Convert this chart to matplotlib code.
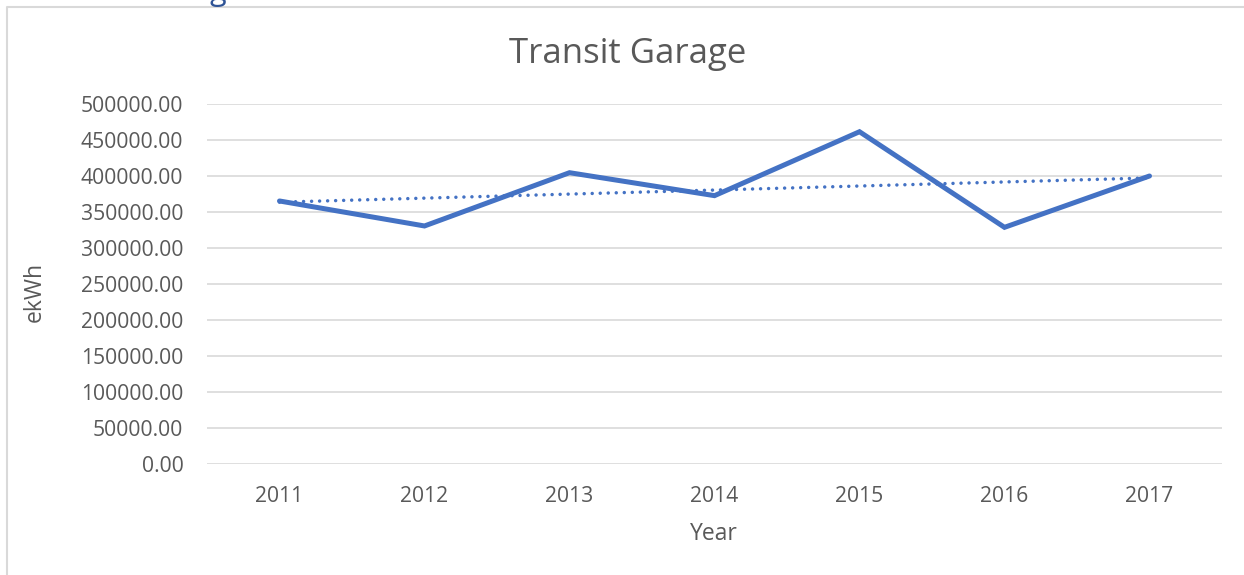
import numpy as np
import matplotlib
matplotlib.use("Agg")
import matplotlib.pyplot as plt
from matplotlib.lines import Line2D

years = ["2011", "2012", "2013", "2014", "2015", "2016", "2017"]
ekwh = [365300, 330600, 404600, 372700, 461500, 328700, 400000]

plt.rcParams['font.family'] = ['Open Sans', 'DejaVu Sans']
txt = '#595959'
blue = '#4472C4'
W, H = 1244, 575

fig = plt.figure(figsize=(12.44, 5.75), dpi=100)
ax = fig.add_axes([207 / W, 111 / H, 1015 / W, 360 / H])

x = np.arange(len(years))
ax.plot(x, ekwh, color=blue, lw=3.6, solid_joinstyle='miter', solid_capstyle='round', zorder=3)

# linear trendline
k, b = np.polyfit(x, ekwh, 1)
ax.plot(x, k * x + b, color=blue, lw=2.5, linestyle=(0, (0.01, 2.3)),
        dash_capstyle='round', zorder=4)

ax.set_xlim(-0.5, len(years) - 0.5)
ax.set_ylim(0, 500000)
ax.set_yticks(np.arange(0, 500001, 50000))
ax.set_yticklabels([f"{v:.2f}" for v in np.arange(0, 500001, 50000)])
ax.set_xticks(x)
ax.set_xticklabels(years)
ax.grid(axis='y', color='#D9D9D9', lw=1.2)
ax.set_axisbelow(True)
for s in ax.spines.values():
    s.set_visible(False)
ax.tick_params(length=0, labelsize=15.2, colors=txt)
ax.tick_params(axis='y', pad=17)
ax.tick_params(axis='x', pad=16)

fig.text(628 / W, 1 - 63 / H, "Transit Garage", fontsize=25, color=txt,
         ha='center', va='baseline')
fig.text(714 / W, 1 - 534 / H, "Year", fontsize=16.5, color=txt, ha='center', va='center')
fig.text(35 / W, 1 - 292 / H, "ekWh", fontsize=16.5, color=txt, ha='center', va='center',
         rotation=90)

# chart frame (left and top edges) and cut-off heading above it
fig.lines.append(Line2D([7.5 / W, 7.5 / W, 1.0], [0.0, 1 - 6.5 / H, 1 - 6.5 / H],
                        transform=fig.transFigure, color='#D9D9D9', lw=1.5))
fig.text(210 / W, 1.0, "g", color='#2F5496', fontsize=22, va='baseline', ha='left')

fig.savefig("out.png", dpi=100)
